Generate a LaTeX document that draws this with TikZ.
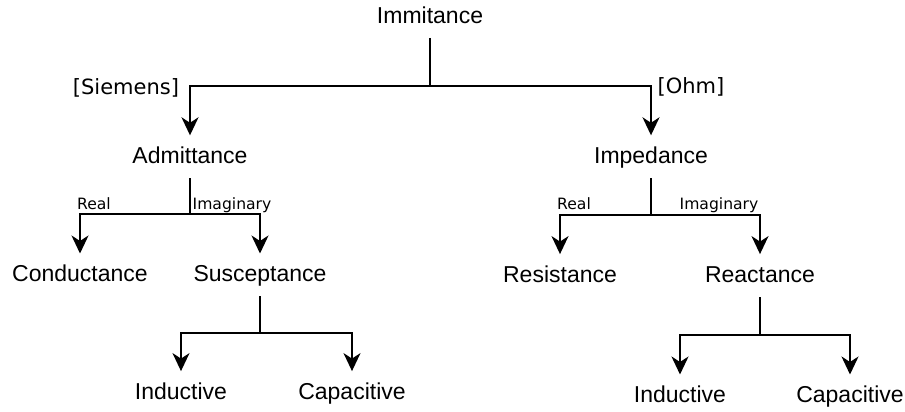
\documentclass[tikz,border=0pt]{standalone}
\usepackage{fontspec}
\setmainfont{Liberation Sans}
\newfontfamily\dejavu{DejaVu Sans}
\usetikzlibrary{arrows.meta}

\tikzset{
  term/.style={anchor=base, font=\fontsize{23}{27}\selectfont,
    text height=16.5pt, text depth=3pt, inner xsep=0pt, inner ysep=11.5pt},
  unit/.style={anchor=base, font=\dejavu\fontsize{21}{25}\selectfont, inner sep=0pt},
  part/.style={anchor=base, font=\dejavu\fontsize{15.6}{18}\selectfont, inner sep=0pt},
  link/.style={line width=2pt},
  arr/.style={link, -{Stealth[length=18pt, width=17pt, inset=5.5pt]}}
}

\begin{document}
\begin{tikzpicture}[x=1pt, y=-1pt]
  \useasboundingbox (0,0) rectangle (905,412);

  % quantities
  \node[term] (imm) at (430,23.3) {Immitance};
  \node[term] (adm) at (190,163.5) {Admittance};
  \node[term] (imp) at (651,163.5) {Impedance};
  \node[term] (con) at (80,281.7) {Conductance};
  \node[term] (sus) at (260,281.7) {Susceptance};
  \node[term] (res) at (560,282.3) {Resistance};
  \node[term] (rea) at (760,282.3) {Reactance};
  \node[term] (ind1) at (181,399.3) {Inductive};
  \node[term] (cap1) at (352,399.3) {Capacitive};
  \node[term] (ind2) at (680,402.7) {Inductive};
  \node[term] (cap2) at (850,402.7) {Capacitive};

  % units and parts
  \node[unit] (siemens) at (126,94.5) {[Siemens]};
  \node[unit] (ohm) at (691,93.5) {[Ohm]};
  \node[part] (re1) at (94,209.3) {Real};
  \node[part] (im1) at (232,209.3) {Imaginary};
  \node[part] (re2) at (574,209.3) {Real};
  \node[part] (im2) at (719,209.3) {Imaginary};

  % branch points
  \coordinate (j0) at (imm.south |- 0,86);
  \coordinate (j1) at (adm.south |- 0,214);
  \coordinate (j2) at (imp.south |- 0,215);
  \coordinate (j3) at (sus.south |- 0,333);
  \coordinate (j4) at (rea.south |- 0,335);

  % tree connectors
  \draw[link] (imm) -- (j0);
  \draw[arr] (j0) -| (adm);
  \draw[arr] (j0) -| (imp);

  \draw[link] (adm) -- (j1);
  \draw[arr] (j1) -| (con);
  \draw[arr] (j1) -| (sus);

  \draw[link] (imp) -- (j2);
  \draw[arr] (j2) -| (res);
  \draw[arr] (j2) -| (rea);

  \draw[link] (sus) -- (j3);
  \draw[arr] (j3) -| (ind1);
  \draw[arr] (j3) -| (cap1);

  \draw[link] (rea) -- (j4);
  \draw[arr] (j4) -| (ind2);
  \draw[arr] (j4) -| (cap2);
\end{tikzpicture}
\end{document}
